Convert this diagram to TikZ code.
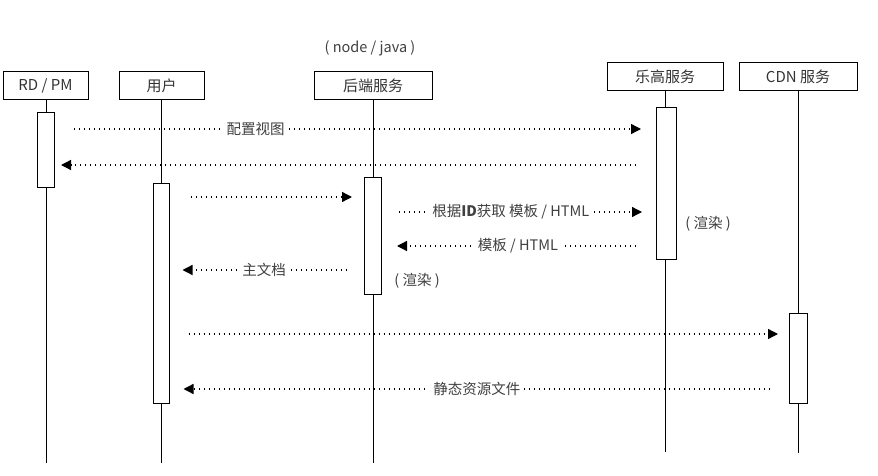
\documentclass[tikz,border=0pt]{standalone}
\usepackage{fontspec}
\setmainfont{Noto Sans CJK SC}
\usetikzlibrary{arrows.meta}

\begin{document}
\begin{tikzpicture}[x=1pt, y=-1pt,
    actor/.style={draw, line width=1pt, minimum height=28pt, inner sep=0pt, font=\fontsize{15}{17}\selectfont, text=black!80},
    bar/.style={draw, fill=white, line width=1pt, minimum width=17pt, inner sep=0pt},
    life/.style={line width=1pt},
    msg/.style={line width=1.3pt, dash pattern=on 1.3pt off 3.7pt, -{Triangle[length=10pt,width=10pt]}},
    lbl/.style={fill=white, inner xsep=4pt, inner ysep=1pt, font=\fontsize{14.5}{16}\selectfont, text=black!75},
    note/.style={font=\fontsize{14.5}{16}\selectfont, text=black!75}]
    \useasboundingbox (0, 0) rectangle (878, 476);

    % participants
    \node [actor, minimum width=85pt] (rd) at (45.5, 86) {RD / PM};
    \node [actor, minimum width=85pt] (user) at (161.5, 86) {用户};
    \node [actor, minimum width=118pt] (backend) at (373, 86) {后端服务};
    \node [actor, minimum width=116pt] (lego) at (665, 77) {乐高服务};
    \node [actor, minimum width=118pt] (cdn) at (798, 77) {CDN 服务};
    \node [note] (lang) at (370, 48) {( node / java )};

    % lifelines
    \coordinate (rdend) at (46, 463);
    \coordinate (userend) at (161, 463);
    \coordinate (backendend) at (373, 463);
    \coordinate (legoend) at (665.5, 452);
    \coordinate (cdnend) at (798.5, 453);
    \draw [life] (rd.south -| rdend) -- (rdend);
    \draw [life] (user.south -| userend) -- (userend);
    \draw [life] (backend.south -| backendend) -- (backendend);
    \draw [life] (lego.south -| legoend) -- (legoend);
    \draw [life] (cdn.south -| cdnend) -- (cdnend);

    % activation bars
    \node [bar, minimum height=74pt] (rdbar) at (46, 150) {};
    \node [bar, minimum width=16pt, minimum height=220pt] (userbar) at (161, 293) {};
    \node [bar, minimum height=117pt] (backendbar) at (373, 235.5) {};
    \node [bar, minimum width=20pt, minimum height=151pt] (legobar) at (666.5, 183.5) {};
    \node [bar, minimum width=18pt, minimum height=90pt] (cdnbar) at (798.5, 358) {};

    % message rows
    \coordinate (m1) at (0, 129);
    \coordinate (m2) at (0, 165);
    \coordinate (m3) at (0, 197);
    \coordinate (m4) at (0, 212);
    \coordinate (m5) at (0, 246);
    \coordinate (m6) at (0, 270);
    \coordinate (m7) at (0, 334);
    \coordinate (m8) at (0, 389);

    \draw [msg, shorten <=19pt, shorten >=15pt] (rdbar.east |- m1) -- (legobar.west |- m1)
        node [lbl, pos=0.334] (cfg) {配置视图};
    \draw [msg, shorten <=20pt, shorten >=6pt] (legobar.west |- m2) -- (rdbar.east |- m2);
    \draw [msg, shorten <=21pt, shorten >=12pt] (userbar.east |- m3) -- (backendbar.west |- m3);
    \draw [msg, shorten <=17pt, shorten >=14pt] (backendbar.east |- m4) -- (legobar.west |- m4)
        node [lbl, pos=0.47] (fetch) {根据\textbf{ID}获取 模板 / HTML};
    \draw [msg, shorten <=20pt, shorten >=15pt] (legobar.west |- m5) -- (backendbar.east |- m5)
        node [lbl, pos=0.504] (tpl) {模板 / HTML};
    \draw [msg, shorten <=17pt, shorten >=13pt] (backendbar.west |- m6) -- (userbar.east |- m6)
        node [lbl, pos=0.513] (doc) {主文档};
    \draw [msg, shorten <=19pt, shorten >=11pt] (userbar.east |- m7) -- (cdnbar.west |- m7);
    \draw [msg, shorten <=19pt, shorten >=14pt] (cdnbar.west |- m8) -- (userbar.east |- m8)
        node [lbl, pos=0.504] (static) {静态资源文件};

    % notes
    \node [note] (render1) at (417, 281) {( 渲染 )};
    \node [note] (render2) at (708, 224) {( 渲染 )};

\end{tikzpicture}
\end{document}
